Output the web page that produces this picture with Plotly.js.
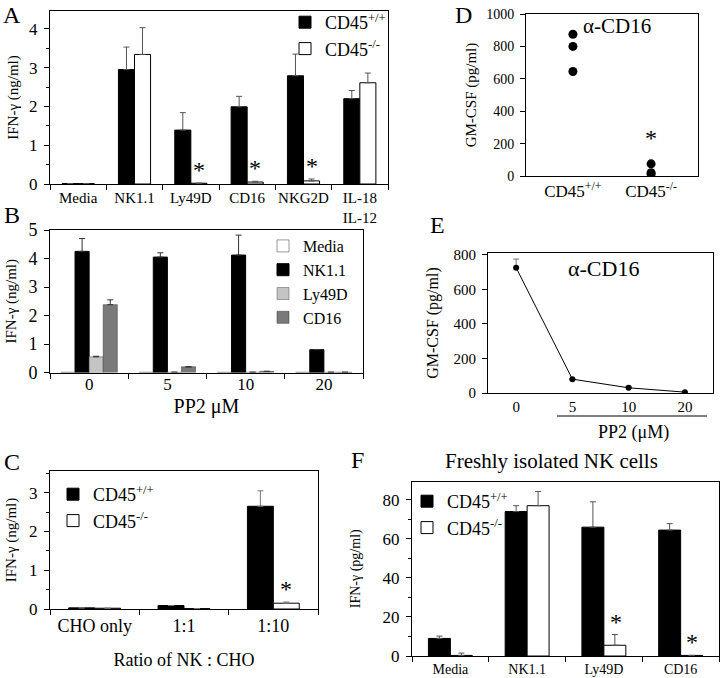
<!DOCTYPE html>
<html><head><meta charset="utf-8">
<script src="https://cdn.plot.ly/plotly-3.0.1.min.js"></script>
<style>
html,body{margin:0;padding:0;background:#fff}
#chart text, #chart tspan { font-family: "Liberation Serif", "Times New Roman", serif !important; }
</style>
</head><body><div id="chart" style="width:720px;height:678px"></div>
<script>
// ---------- DATA ----------
// Panel A
const catsA = ['Media','NK1.1','Ly49D','CD16','NKG2D','IL-18<br>IL-12'];
const wtA    = [0.01, 2.95, 1.39, 1.99, 2.79, 2.20];
const wtAErr = [NaN, 0.58, 0.45, 0.27, 0.56, 0.21];
const koA    = [0.01, 3.34, 0.02, 0.05, 0.08, 2.61];
const koAErr = [NaN, 0.69, NaN, 0.02, 0.05, 0.25];
const starA  = ['Ly49D','CD16','NKG2D'];
// Panel B
const catsB   = ['0','5','10','20'];
const mediaB  = [0.01, 0.01, 0.01, 0.01];
const nkB     = [4.25, 4.05, 4.12, 0.80];
const nkBErr  = [0.45, 0.15, 0.70, NaN];
const lyB     = [0.55, 0.01, 0.01, 0.01];
const lyBErr  = [0.02, NaN, NaN, NaN];
const cdB     = [2.38, 0.20, 0.04, 0.01];
const cdBErr  = [0.17, NaN, NaN, NaN];
const starB   = ['5','10'];
// Panel C
const catsC  = ['CHO only','1:1','1:10'];
const wtC    = [0.03, 0.09, 2.65];
const wtCErr = [NaN, NaN, 0.40];
const koC    = [0.02, 0.01, 0.15];
const koCErr = [NaN, NaN, 0.03];
// Panel D
const catsD = ['CD45<sup>+/+</sup>','CD45<sup>-/-</sup>'];
const dGroup = ['CD45<sup>+/+</sup>','CD45<sup>+/+</sup>','CD45<sup>+/+</sup>','CD45<sup>-/-</sup>','CD45<sup>-/-</sup>','CD45<sup>-/-</sup>'];
const dVals  = [875, 800, 645, 75, 20, 12];
// Panel E
const catsE  = ['0','5','10','20'];
const gmE    = [725, 80, 30, 5];
const gmEErr = [50, NaN, 8, NaN];
// Panel F
const catsF  = ['Media','NK1.1','Ly49D','CD16'];
const wtF    = [9, 74, 66, 64.5];
const wtFErr = [1.2, 3, 13, 3.3];
const koF    = [0.3, 77, 5.5, 0.3];
const koFErr = [1.2, 7.3, 5.5, NaN];

// ---------- LAYOUT HELPERS ----------
const W = 720, H = 678;
const FF = 'Liberation Serif, Times New Roman, serif';
const fnt = (s) => ({family:FF, size:s, color:'#000'});
const xd = (a,b) => [a/W, b/W];
const yd = (t,b) => [1-b/H, 1-t/H];
const px = v => v/W, py = v => 1 - v/H;
function err(a, col){ return {type:'data', array:a, arrayminus:a.map(()=>0), symmetric:false, color:col||'#555', thickness:1, width:3}; }
const edge = {color:'#000', width:1};

const traces = [];
// A
traces.push({type:'bar', x:catsA, y:wtA, name:'CD45<sup>+/+</sup>', xaxis:'x', yaxis:'y', width:0.285, offset:-0.285,
  marker:{color:'#000', line:edge}, error_y:err(wtAErr), legend:'legend'});
traces.push({type:'bar', x:catsA, y:koA, name:'CD45<sup>-/-</sup>', xaxis:'x', yaxis:'y', width:0.285, offset:0,
  marker:{color:'#fff', line:edge}, error_y:err(koAErr), legend:'legend'});
// B
traces.push({type:'bar', x:catsB, y:mediaB, name:'Media', xaxis:'x2', yaxis:'y2', width:0.18, offset:-0.36,
  marker:{color:'#fff', line:{color:'#333',width:0.5}}, legend:'legend2'});
traces.push({type:'bar', x:catsB, y:nkB, name:'NK1.1', xaxis:'x2', yaxis:'y2', width:0.18, offset:-0.18,
  marker:{color:'#000', line:edge}, error_y:err(nkBErr,'#333'), legend:'legend2'});
traces.push({type:'bar', x:catsB, y:lyB, name:'Ly49D', xaxis:'x2', yaxis:'y2', width:0.18, offset:0,
  marker:{color:'#c4c4c4', line:{color:'#555',width:0.5}}, error_y:err(lyBErr,'#333'), legend:'legend2'});
traces.push({type:'bar', x:catsB, y:cdB, name:'CD16', xaxis:'x2', yaxis:'y2', width:0.18, offset:0.18,
  marker:{color:'#7a7a7a', line:{color:'#333',width:0.5}}, error_y:err(cdBErr,'#333'), legend:'legend2'});
// C
traces.push({type:'bar', x:catsC, y:wtC, name:'CD45<sup>+/+</sup>', xaxis:'x3', yaxis:'y3', width:0.29, offset:-0.29,
  marker:{color:'#000', line:edge}, error_y:err(wtCErr,'#777'), legend:'legend3'});
traces.push({type:'bar', x:catsC, y:koC, name:'CD45<sup>-/-</sup>', xaxis:'x3', yaxis:'y3', width:0.29, offset:0,
  marker:{color:'#fff', line:edge}, error_y:err(koCErr,'#777'), legend:'legend3'});
// D
traces.push({type:'scatter', mode:'markers', x:dGroup, y:dVals, xaxis:'x4', yaxis:'y4', showlegend:false,
  marker:{color:'#000', size:9}});
// E
traces.push({type:'scatter', mode:'lines+markers', x:catsE, y:gmE, xaxis:'x5', yaxis:'y5', showlegend:false,
  line:{color:'#000', width:1}, marker:{color:'#000', size:6}, error_y:err(gmEErr,'#777')});
// F
traces.push({type:'bar', x:catsF, y:wtF, name:'CD45<sup>+/+</sup>', xaxis:'x6', yaxis:'y6', width:0.286, offset:-0.286,
  marker:{color:'#000', line:edge}, error_y:err(wtFErr), legend:'legend4'});
traces.push({type:'bar', x:catsF, y:koF, name:'CD45<sup>-/-</sup>', xaxis:'x6', yaxis:'y6', width:0.286, offset:0,
  marker:{color:'#fff', line:edge}, error_y:err(koFErr), legend:'legend4'});

const axL = {showline:true, linecolor:'#000', linewidth:1, mirror:true, showgrid:false, zeroline:false,
  ticks:'outside', tickcolor:'#000', ticklen:5, tickwidth:1};
function yax(dom, rng, dt, fs, title, tfs, standoff, minor){
  const o = Object.assign({}, axL, {domain:dom, range:rng, dtick:dt, tick0:0, tickfont:fnt(fs),
    ticklabelstandoff:3, title:{text:title, font:fnt(tfs), standoff:standoff}});
  if(minor) o.minor = {dtick:minor, ticks:'outside', ticklen:3, tickcolor:'#000'};
  return o;
}
function xax(dom, n, fs, ticks, title, tfs, standoff){
  const o = Object.assign({}, axL, {domain:dom, type:'category', range:[-0.5, n-0.5], tickfont:fnt(fs), tickangle:0,
    tickson:'boundaries', ticks:ticks?'outside':'', ticklen:5});
  if(title) o.title = {text:title, font:fnt(tfs), standoff:standoff};
  return o;
}
const leg = (x,y,s) => ({x:px(x), y:py(y), xanchor:'left', yanchor:'top', bgcolor:'rgba(0,0,0,0)', font:fnt(s||17), itemwidth:30, tracegroupgap:0});

const layout = {
  width:W, height:H, margin:{l:0,r:0,t:0,b:0}, paper_bgcolor:'#fff', plot_bgcolor:'#fff',
  font:fnt(15), showlegend:true,
  xaxis:  xax(xd(50,388), 6, 15, true),
  yaxis:  yax(yd(11,184), [0,4.46], 1, 17, 'IFN-γ (ng/ml)', 15, 6, 0.5),
  xaxis2: Object.assign(xax(xd(50,363), 4, 17, true, 'PP2 μM', 20, 6), {anchor:'y2', ticklabelstandoff:-4}),
  yaxis2: Object.assign(yax(yd(230,372.5), [0,5], 1, 18, 'IFN-γ (ng/ml)', 15, 8), {anchor:'x2'}),
  xaxis3: Object.assign(xax(xd(50,318), 3, 18, true, 'Ratio of NK : CHO', 18, 18), {anchor:'y3'}),
  yaxis3: Object.assign(yax(yd(471,609), [0,3.56], 1, 17, 'IFN-γ (ng/ml)', 15, 8, 0.5), {anchor:'x3'}),
  xaxis4: Object.assign(xax(xd(526,698), 2, 17, false), {anchor:'y4', range:[-0.6,1.6]}),
  yaxis4: Object.assign(yax(yd(14,176), [0,1000], 200, 14, 'GM-CSF (pg/ml)', 15, 5), {anchor:'x4'}),
  xaxis5: Object.assign(xax(xd(488,713), 4, 15, false), {anchor:'y5'}),
  yaxis5: Object.assign(yax(yd(253,393), [0,810], 200, 15, 'GM-CSF (pg/ml)', 16, 10), {anchor:'x5'}),
  xaxis6: Object.assign(xax(xd(412,719), 4, 14, true), {anchor:'y6'}),
  yaxis6: Object.assign(yax(yd(481.5,656), [0,89.4], 20, 17, 'IFN-γ (pg/ml)', 14, 18, 10), {anchor:'x6'}),
  legend:  leg(285, 4, 18),
  legend2: leg(263, 229, 16),
  legend3: leg(53, 476, 18),
  legend4: leg(407, 483, 18),
  shapes: [
    {type:'line', xref:'paper', yref:'paper', x0:px(557), x1:px(707), y0:py(416), y1:py(416), line:{color:'#000', width:1}}
  ],
  annotations: []
};
const ann = layout.annotations;
function note(t, x, y, s){ ann.push({text:t, xref:'paper', yref:'paper', x:px(x), y:py(y), showarrow:false, font:fnt(s), xanchor:'center', yanchor:'middle'}); }
// panel letters
[['A',12,15],['B',12,215],['C',12,462],['D',463,15],['E',438,225],['F',357,460]].forEach(([t,x,y])=> note(t,x,y,24));
// titles/notes
note('α-CD16', 617, 26, 21);
note('α-CD16', 603, 268, 22);
note('PP2 (μM)', 633, 432, 18);
note('Freshly isolated NK cells', 551, 461, 21);
// asterisks
function star(xa, ya, cat, y, xs){ ann.push({text:'*', xref:xa, yref:ya, x:cat, y:y, xshift:xs, yshift:-2, showarrow:false, xanchor:'center', yanchor:'bottom', font:fnt(24)}); }
starA.forEach(c=>{ const i=catsA.indexOf(c); star('x','y',c, koA[i]+(isNaN(koAErr[i])?0:koAErr[i]), 8); });
starB.forEach(c=>{ const i=catsB.indexOf(c); star('x2','y2',c, cdB[i], 17); });
star('x3','y3','1:10', koC[2]+koCErr[2], 13);
star('x4','y4', catsD[1], dVals[3]+80, 0);
star('x5','y5', catsE[2], gmE[2]+30, 0);
star('x6','y6','Ly49D', koF[2]+koFErr[2], 12);
star('x6','y6','CD16', koF[3], 11);

Plotly.newPlot('chart', traces, layout, {staticPlot:true, displayModeBar:false});
</script>
</body></html>
